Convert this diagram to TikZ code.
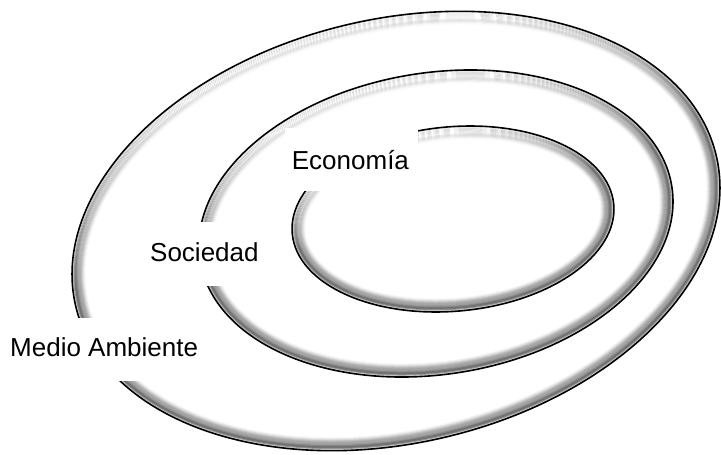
\documentclass[tikz,border=0pt]{standalone}
\usepackage{fontspec}
\setmainfont{Liberation Sans}
\newcommand{\emboss}[5]{%
  \pgfmathsetmacro\hh{100*sqrt((#4/100*cos(105-#3))^2+(#5/100*sin(105-#3))^2)}%
  \pgfmathsetmacro\ya{#2-0.12*\hh}%
  \pgfmathsetmacro\yb{#2-0.85*\hh}%
  \pgfmathsetmacro\ybb{\yb+1.5}%
  \pgfmathsetmacro\yc{#2-#4-40}%
  \pgfmathsetmacro\xa{#1-#4-40}%
  \pgfmathsetmacro\xb{#1+#4+40}%
  \foreach \d/\p/\f in {0/14/0, 1.5/40/0, 2.5/54/0, 3.5/56/0, 4.5/48/0, 5.5/40/0, 6.5/36/0, 7.5/35/6, 8.5/31/8, 9.5/24/8, 10.5/16/5, 11.5/9/2, 12.5/4/1, 13.5/0/0}{%
    \pgfmathsetmacro\rai{#4-\d}\pgfmathsetmacro\rbi{#5-\d}%
    \begin{scope}
      \clip[rotate around={#3:(#1,#2)}] (#1,#2) ellipse [x radius=\rai pt, y radius=\rbi pt];
      \fill[black!\p] (\xa,\yc) rectangle (\xb,{#2+#4+40});
      \begin{scope}[transform canvas={rotate around={15:(#1,#2)}}]
        \shade[top color=black!\f, bottom color=black!\p] (\xa,\ya) rectangle (\xb,\yb);
        \fill[black!\f] (\xa,\ybb) rectangle (\xb,\yc);
      \end{scope}
    \end{scope}
  }%
  \draw[line width=1.6pt, rotate around={#3:(#1,#2)}] (#1,#2) ellipse [x radius=#4pt, y radius=#5pt];
}
\begin{document}
\begin{tikzpicture}[x=1pt,y=-1pt,
  lbl/.style={font=\fontsize{26}{30}\selectfont, inner sep=0pt, anchor=base west},
  cover/.style={fill=white, inner sep=0pt}]
\useasboundingbox (0,0) rectangle (721,455);
\emboss{396}{231}{13.2}{329}{212}
\emboss{436}{223.5}{8.9}{238.7}{150.8}
\emboss{453}{219}{5.2}{161.4}{92.2}
\node[cover, minimum width=133pt, minimum height=63pt] (ecobox) at (351.5,159.5) {};
\node[cover, minimum width=132pt, minimum height=64pt] (socbox) at (206,254) {};
\node[cover, minimum width=216pt, minimum height=63pt] (medbox) at (108,349.5) {};
\node[lbl] (eco) at (291.7,169) {Economía};
\node[lbl] (soc) at (150,261.7) {Sociedad};
\node[lbl] (med) at (10,356.7) {Medio Ambiente};
\end{tikzpicture}
\end{document}
